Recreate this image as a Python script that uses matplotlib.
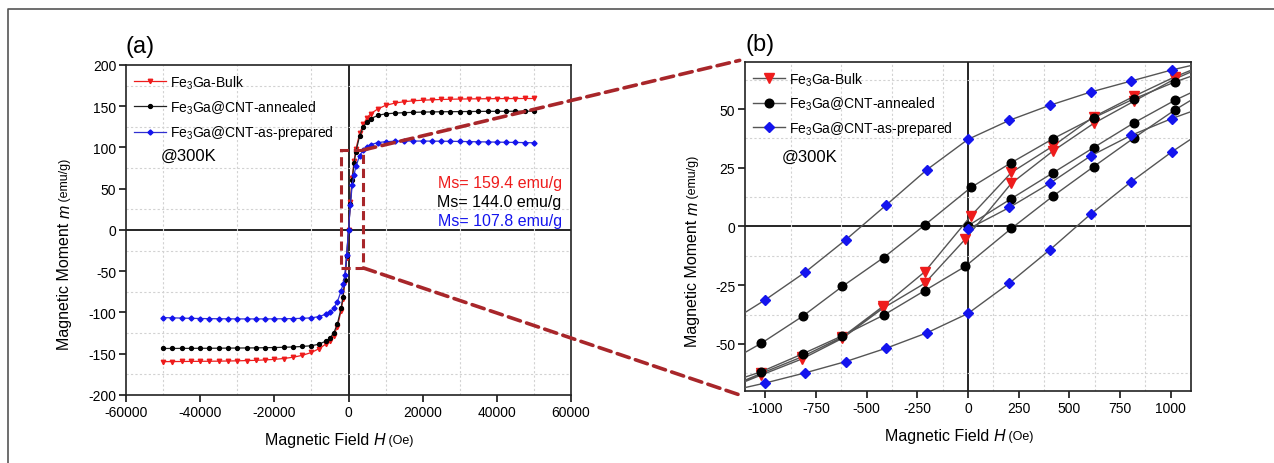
import numpy as np
import matplotlib
matplotlib.use("Agg")
import matplotlib.pyplot as plt
from matplotlib.patches import Rectangle, ConnectionPatch
from matplotlib.lines import Line2D
from matplotlib.ticker import MultipleLocator
from matplotlib.transforms import IdentityTransform

plt.rcParams['font.family'] = ['Liberation Sans', 'DejaVu Sans']
plt.rcParams['mathtext.fontset'] = 'custom'
plt.rcParams['mathtext.rm'] = 'Liberation Sans'
plt.rcParams['mathtext.it'] = 'Liberation Sans:italic'
plt.rcParams['mathtext.default'] = 'regular'
plt.rcParams['axes.unicode_minus'] = False

# ---- panel (a): full field range (Oe) and moment (emu/g)
H_a = [-50000, -47500, -45000, -42500, -40000, -37500, -35000, -32500, -30000,
       -27500, -25000, -22500, -20000, -17500, -15000, -12500, -10000,
       -8000, -6000, -5000, -4000, -3000, -2000, -1500, -1000, -500,
       0,
       500, 1000, 1500, 2000, 3000, 4000, 5000, 6000, 8000,
       10000, 12500, 15000, 17500, 20000, 22500, 25000, 27500, 30000,
       32500, 35000, 37500, 40000, 42500, 45000, 47500, 50000]

bulk_a = [-159.6, -159.5, -159.4, -159.3, -159.2, -159.1, -159.0, -158.8, -158.6,
          -158.3, -158.0, -157.5, -156.8, -155.8, -154.3, -152.0, -148.5,
          -144.0, -138.0, -134.0, -128.0, -117.0, -98.0, -84.0, -63.0, -34.0,
          0.0,
          34.0, 63.0, 84.0, 98.0, 117.0, 128.0, 136.0, 141.0, 147.0,
          151.0, 153.8, 155.5, 156.6, 157.3, 157.8, 158.2, 158.5, 158.7,
          158.9, 159.0, 159.1, 159.2, 159.3, 159.3, 159.4, 159.4]

annealed_a = [-143.6, -143.6, -143.5, -143.5, -143.4, -143.4, -143.3, -143.2, -143.1,
              -143.0, -142.9, -142.7, -142.5, -142.2, -141.8, -141.2, -140.3,
              -138.5, -134.5, -131.0, -125.0, -114.0, -95.0, -81.0, -61.0, -32.0,
              0.0,
              32.0, 61.0, 81.0, 95.0, 114.0, 125.0, 131.0, 135.0, 139.0,
              140.8, 141.6, 142.2, 142.6, 142.9, 143.1, 143.3, 143.4, 143.5,
              143.6, 143.7, 143.8, 143.8, 143.9, 143.9, 144.0, 144.0]

prepared_a = [-106.2, -106.5, -106.8, -107.1, -107.3, -107.5, -107.6, -107.7, -107.8,
              -107.8, -107.8, -107.8, -107.7, -107.6, -107.4, -107.1, -106.5,
              -105.0, -102.0, -99.5, -95.0, -87.0, -74.0, -66.0, -55.0, -30.0,
              0.0,
              30.0, 55.0, 67.0, 77.0, 90.0, 97.0, 101.0, 103.5, 106.0,
              107.0, 107.6, 107.8, 107.8, 107.8, 107.7, 107.6, 107.5, 107.3,
              107.1, 106.9, 106.7, 106.5, 106.3, 106.1, 105.9, 105.7]

# ---- panel (b): low-field loops (virgin -> descending -> ascending)
bulk_H = [1200, 1020, 820, 620, 420, 214, 14, -214, -420, -620, -820, -1020, -1200,
          -1200, -1020, -820, -620, -420, -214, -14, 214, 420, 620, 820, 1020, 1200]
bulk_M = [70.0, 63.7, 55.5, 46.7, 34.3, 23.0, 4.5, -19.3, -34.0, -47.0, -55.5, -62.5, -69.0,
          -69.5, -63.2, -56.4, -47.6, -34.8, -24.2, -5.4, 18.4, 32.2, 43.9, 53.4, 62.8, 69.5]

ann_H = [0, 214, 420, 620, 820, 1020, 1200,
         1200, 1020, 820, 620, 420, 214, 14, -214, -416, -620, -816, -1020, -1200,
         -1200, -1020, -816, -620, -416, -214, -14, 214, 420, 620, 820, 1020, 1200]
ann_M = [0.3, 11.9, 22.9, 33.6, 44.2, 53.7, 61.0,
         67.0, 61.5, 54.4, 46.3, 37.4, 27.2, 16.6, 0.6, -13.2, -25.5, -38.2, -49.7, -58.5,
         -67.0, -61.8, -54.2, -46.5, -37.7, -27.3, -17.0, -0.8, 13.0, 25.5, 37.8, 49.6, 59.0]

prep_H = [0, 204, 404, 604, 804, 1004, 1200,
          1200, 1004, 804, 604, 404, 204, 0, -204, -404, -604, -804, -1000, -1200,
          -1200, -1000, -804, -604, -404, -204, 0, 204, 404, 604, 804, 1004, 1200]
prep_M = [-1.1, 8.1, 18.4, 30.0, 38.8, 45.9, 52.0,
          70.5, 66.6, 61.9, 57.2, 51.6, 45.2, 37.1, 24.1, 9.1, -5.7, -19.5, -31.2, -42.0,
          -70.5, -66.6, -62.3, -57.5, -51.8, -45.3, -37.0, -24.1, -9.9, 5.2, 19.0, 31.7, 43.0]

labels = ['Fe$_3$Ga-Bulk', 'Fe$_3$Ga@CNT-annealed', 'Fe$_3$Ga@CNT-as-prepared']
ms_text = ['Ms= 159.4 emu/g', 'Ms= 144.0 emu/g', 'Ms= 107.8 emu/g']
colors = ['#ee1c1c', '#000000', '#1414ee']
dark_red = '#a8262a'

fig = plt.figure(figsize=(12.74, 4.64), dpi=100)
ax_a = fig.add_axes([0.0989, 0.1466, 0.3493, 0.7112])
ax_b = fig.add_axes([0.5848, 0.1552, 0.3501, 0.7090])


def style_axes(ax):
    for s in ax.spines.values():
        s.set_linewidth(1.2)
        s.set_color('#222222')
    ax.tick_params(which='major', direction='out', length=5, width=1.1,
                   labelsize=10, top=False, right=False, pad=2)
    ax.tick_params(which='minor', length=0)
    ax.grid(which='minor', linestyle=(0, (2, 2)), color='#d2d2d2', linewidth=0.8)
    ax.axhline(0, color='black', lw=1.2, zorder=1.5)
    ax.axvline(0, color='black', lw=1.2, zorder=1.5)


# panel (a)
ax_a.plot(H_a, bulk_a, color=colors[0], lw=0.9, marker='v', ms=3.2, label=labels[0])
ax_a.plot(H_a, annealed_a, color='#222222', lw=0.9, marker='o', ms=2.8,
          mfc=colors[1], mec=colors[1], label=labels[1])
ax_a.plot(H_a, prepared_a, color='#3030d0', lw=0.9, marker='D', ms=2.6,
          mfc=colors[2], mec=colors[2], label=labels[2])
ax_a.set_xlim(-60000, 60000)
ax_a.set_ylim(-200, 200)
ax_a.xaxis.set_major_locator(MultipleLocator(20000))
ax_a.xaxis.set_minor_locator(MultipleLocator(10000))
ax_a.yaxis.set_major_locator(MultipleLocator(50))
ax_a.yaxis.set_minor_locator(MultipleLocator(25))
style_axes(ax_a)
ax_a.legend(loc='upper left', frameon=False, fontsize=10, handlelength=2.3,
            handletextpad=0.3, labelspacing=0.55, borderaxespad=0.3, borderpad=0.3)
ax_a.text(-43000, 90, '@300K', fontsize=12, ha='center', va='center')
for k, (t, c) in enumerate(zip(ms_text, colors)):
    ax_a.text(57500, 58 - k * 23.5, t, color=c, fontsize=11.5, ha='right', va='center')
ax_a.add_patch(Rectangle((-2150, -46), 6150, 143, fill=False, ec=dark_red,
                         lw=2.2, ls=(0, (3, 1.6)), zorder=4))
ax_a.text(-60000, 210, '(a)', fontsize=17, ha='left', va='bottom')

# panel (b)
ax_b.plot(bulk_H, bulk_M, color='#555555', lw=1.0, marker='v', ms=7.5,
          mfc=colors[0], mec=colors[0], label=labels[0], zorder=3)
ax_b.plot(ann_H, ann_M, color='#555555', lw=1.0, marker='o', ms=6.2,
          mfc=colors[1], mec=colors[1], label=labels[1], zorder=3)
ax_b.plot(prep_H, prep_M, color='#555555', lw=1.0, marker='D', ms=5.2,
          mfc=colors[2], mec=colors[2], label=labels[2], zorder=3)
ax_b.set_xlim(-1100, 1100)
ax_b.set_ylim(-70, 70)
ax_b.xaxis.set_major_locator(MultipleLocator(250))
ax_b.xaxis.set_minor_locator(MultipleLocator(125))
ax_b.yaxis.set_major_locator(MultipleLocator(25))
ax_b.yaxis.set_minor_locator(MultipleLocator(12.5))
style_axes(ax_b)
ax_b.legend(loc='upper left', frameon=False, fontsize=10, handlelength=2.3,
            handletextpad=0.3, labelspacing=0.5, borderaxespad=0.3, borderpad=0.3)
ax_b.text(-780, 30, '@300K', fontsize=12, ha='center', va='center')
ax_b.text(-1100, 73, '(b)', fontsize=17, ha='left', va='bottom')

# zoom connectors
for ya, yb in [(97, 1.0), (-46, 0.0)]:
    con = ConnectionPatch(xyA=(4000, ya), coordsA=ax_a.transData,
                          xyB=(-0.012, yb + (0.005 if yb else -0.012)), coordsB=ax_b.transAxes,
                          color=dark_red, lw=2.6, ls=(0, (3.5, 1.8)), zorder=5)
    fig.add_artist(con)

# axis labels built from pieces (different sizes / italic)
fig.canvas.draw()
renderer = fig.canvas.get_renderer()


def label_parts(x0, y0, parts, vertical):
    pos = x0 if not vertical else y0
    for txt, size, style in parts:
        if vertical:
            t = fig.text(x0, pos, txt, fontsize=size, style=style, rotation=90,
                         rotation_mode='anchor', ha='left', va='center',
                         transform=IdentityTransform())
            pos += t.get_window_extent(renderer).height
        else:
            t = fig.text(pos, y0, txt, fontsize=size, style=style, ha='left',
                         va='center', transform=IdentityTransform())
            pos += t.get_window_extent(renderer).width


ypieces = [('Magnetic Moment ', 11.5, 'normal'), ('m', 11.5, 'italic'),
           (' (emu/g)', 9, 'normal')]
xpieces = [('Magnetic Field ', 11.5, 'normal'), ('H', 11.5, 'italic'),
           (' (Oe)', 9, 'normal')]
label_parts(65, 464 - 350, ypieces, True)
label_parts(693, 464 - 347, ypieces, True)
label_parts(265, 464 - 441, xpieces, False)
label_parts(885, 464 - 437, xpieces, False)

# outer frame lines (top and left)
fig.add_artist(Line2D([8 / 1274, 8 / 1274, 1.0], [0.0, 1 - 10 / 464, 1 - 10 / 464],
                      transform=fig.transFigure, color='#555555', lw=1.2))

fig.savefig('out.png', dpi=100)
